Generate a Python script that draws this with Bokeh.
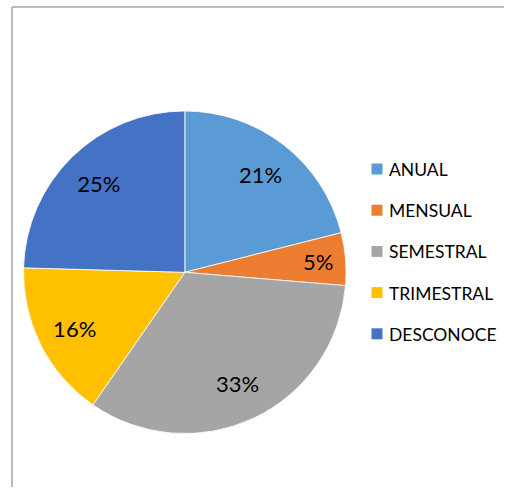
import math
from bokeh.plotting import figure
from bokeh.models import ColumnDataSource, Range1d
from bokeh.core.properties import value
from bokeh.embed import file_html
from bokeh.resources import INLINE

categories = ["ANUAL", "MENSUAL", "SEMESTRAL", "TRIMESTRAL", "DESCONOCE"]
counts = [12, 3, 19, 9, 14]
colors = ["#5B9BD5", "#ED7D31", "#A5A5A5", "#FFC000", "#4472C4"]

W, H = 504, 487
OX, OY = 0, 0  # page offset of the canvas


def px(x):
    return x - OX


def py(y):
    return (OY + H) - y


p = figure(width=W, height=H, output_backend="svg", toolbar_location=None,
           x_range=Range1d(0, W), y_range=Range1d(0, H), min_border=0,
           match_aspect=False)
p.axis.visible = False
p.grid.visible = False
p.outline_line_color = None
p.background_fill_color = "white"
p.border_fill_color = "white"

# chart area border (left + top)
p.line(x=[px(11.5), px(11.5)], y=[py(6.5), py(520)], line_color="#a6a6a6", line_width=1.5)
p.line(x=[px(11.5), px(540)], y=[py(6.5), py(6.5)], line_color="#a6a6a6", line_width=1.5)

cx, cy, R = px(184.3), py(271.8), 161.3
total = sum(counts)
starts, ends, mids, shares = [], [], [], []
cum = 0
for c in counts:
    a0 = math.pi / 2 - 2 * math.pi * (cum + c) / total
    a1 = math.pi / 2 - 2 * math.pi * cum / total
    starts.append(a0)
    ends.append(a1)
    mids.append((a0 + a1) / 2)
    shares.append(c / total)
    cum += c

src = ColumnDataSource(dict(start=starts, end=ends, color=colors))
p.wedge(x=cx, y=cy, radius=R, start_angle="start", end_angle="end",
        fill_color="color", line_color="white", line_width=0.8, source=src)

lx, ly, lt = [], [], []
for m, s in zip(mids, shares):
    f = 0.83 if s < 0.1 else 0.765
    lx.append(cx + f * R * math.cos(m))
    ly.append(cy + f * R * math.sin(m))
    lt.append(f"{round(s * 100)}%")
p.text(x=lx, y=ly, text=lt, text_align="center", text_baseline="middle",
       text_font=value("Lato"), text_font_size="22px", text_color="black")

# legend
row0, step = 168.5, 41.2
ry = [py(row0 + i * step) for i in range(len(categories))]
p.rect(x=[px(376.5)] * len(categories), y=ry, width=11, height=11,
       fill_color=colors, line_color=None)
p.text(x=[px(388.5)] * len(categories), y=[v - 0.5 for v in ry], text=categories,
       text_align="left", text_baseline="middle", text_font=value("Lato"),
       text_font_size="17.5px", text_color="black")

open("out.html", "w").write(file_html(p, INLINE))
